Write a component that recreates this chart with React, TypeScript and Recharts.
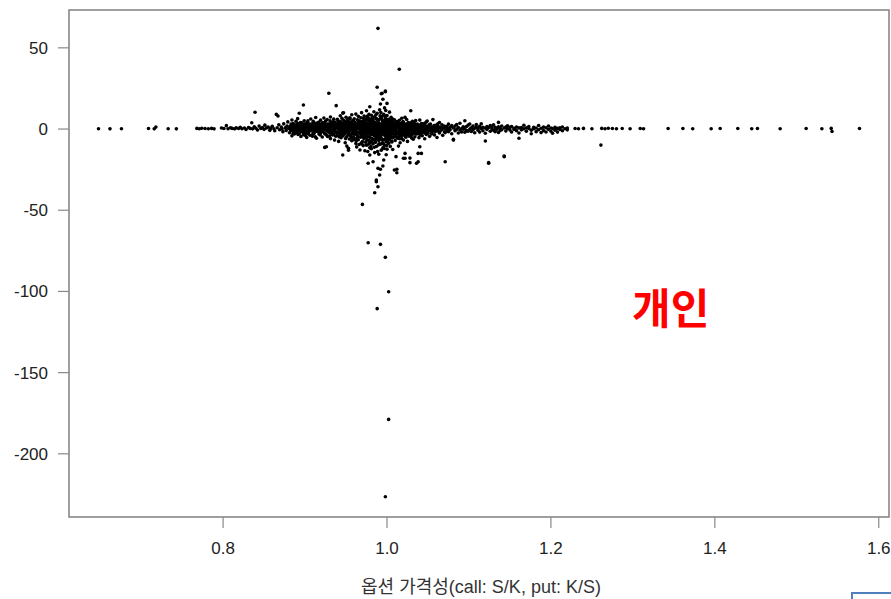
import React from "react";
import { ScatterChart, Scatter, XAxis, YAxis, ReferenceArea } from "recharts";

// tick labels
const xTicks = [0.8, 1.0, 1.2, 1.4, 1.6];
const yTicks = [-200, -150, -100, -50, 0, 50];
const xDomain: [number, number] = [0.612, 1.6125];
const yDomain: [number, number] = [-238.9, 73.3];

// each row: [x, y1, y2, ...]
const tailLeft: number[][] = [
  [0.648, 0.2], [0.662, 0.1], [0.676, 0.2], [0.709, 0.3], [0.716, 0.1], [0.718, 1.2],
  [0.733, 0.2], [0.743, 0.1], [0.768, 0.4], [0.771, 0.2], [0.774, 0.5], [0.778, 0.3],
  [0.782, 0.2], [0.786, 0.4], [0.789, 0.1],
  [0.798, 0.6], [0.801, 0.3], [0.804, 2.1], [0.806, 0.2], [0.809, 0.8], [0.811, 0.4],
  [0.814, 0.1], [0.816, 0.7], [0.819, 0.3], [0.821, 1.1], [0.823, 0.2], [0.826, 0.6],
  [0.828, -0.3], [0.831, 0.9], [0.833, 0.4], [0.835, 3.9], [0.836, 0.1], [0.838, 1.4],
  [0.839, 10.3], [0.84, 0.5], [0.842, -0.6], [0.844, 1.8], [0.846, 0.3], [0.848, 0.9],
  [0.85, -0.2], [0.851, 2.4], [0.853, 0.6], [0.855, 1.2], [0.857, -0.8], [0.858, 0.4],
  [0.86, 1.7], [0.862, 0.2], [0.863, -1.1], [0.865, 9.0], [0.866, 0.8], [0.867, 8.0],
  [0.868, 2.6], [0.869, -0.4], [0.871, 1.3], [0.872, 0.1], [0.873, -1.6], [0.874, 3.2],
  [0.876, 0.7], [0.877, -0.9], [0.878, 1.9], [0.879, 4.4], [0.88, 0.3],
];

const bandLeft: number[][] = [
  [0.881, 1.2, -2.3, 0.4], [0.883, 3.1, -0.7], [0.884, 0.9, -4.2, 5.6], [0.886, 1.8, -1.4],
  [0.887, 0.2, 2.7, -3.0], [0.889, 4.8, -0.5, 1.1], [0.89, -2.2, 0.6], [0.891, 3.5, -1.0, 6.4],
  [0.893, 9.7, 0.3, -2.9], [0.894, 1.6, -0.2, 2.4], [0.895, -4.6, 0.8], [0.896, 3.9, -1.7, 1.3],
  [0.898, 14.8, 0.1, -3.5, 2.0], [0.899, 5.1, -0.9], [0.9, 1.5, -2.6, 3.3, 0.4],
  [0.902, -1.3, 2.8, -5.2], [0.903, 0.7, 4.1], [0.904, -0.4, 1.9, -2.1], [0.906, 3.0, -3.8, 0.2],
  [0.907, 6.2, -1.1, 1.4], [0.909, -0.6, 2.3, -4.4], [0.91, 0.9, 4.7, -1.9], [0.911, 1.7, -2.8],
  [0.913, 3.6, -0.3, 0.8, 7.1], [0.914, -5.7, 1.2], [0.915, 2.5, -1.5, 0.1], [0.917, 4.3, -3.1, 1.0],
  [0.918, -0.8, 2.9], [0.919, 5.5, -2.4, 0.5], [0.921, 1.6, -4.9, 3.4], [0.922, -0.2, 2.1, -1.6],
  [0.923, 6.8, 0.7], [0.924, -11.3, 3.7, -2.7], [0.925, 1.1, -0.5, 4.9], [0.926, -10.9, 2.2, -3.6],
  [0.927, 0.4, 5.8, -1.2], [0.929, 22.0, 1.9, -2.0, 3.1], [0.93, -4.1, 0.6, 2.6],
  [0.931, 7.4, -0.9, -5.9], [0.932, 1.4, 3.9, -2.5], [0.934, -1.3, 0.2, 4.5], [0.935, 2.7, -3.3, 6.1],
  [0.936, -0.6, 1.8, -6.8], [0.938, 14.4, 3.2, -1.8], [0.939, 0.9, -4.0, 2.4], [0.94, 5.3, -2.2, 0.1],
  [0.941, -7.6, 1.5, 3.8], [0.942, 0.3, -1.1, 2.0], [0.943, 4.6, -3.9, 8.2], [0.944, -0.7, 1.3, -5.4],
  [0.945, 2.9, 6.6, -2.1], [0.946, 9.8, -16.0, 0.5], [0.947, 10.0, -1.5, 3.5], [0.948, -3.0, 1.0, 5.0],
  [0.949, 0.2, -8.4, 2.3], [0.95, 4.2, -1.9, 7.3], [0.951, -10.5, 0.8, -4.6], [0.952, 2.6, -0.4, 5.9],
  [0.953, -13.0, -11.9, 1.7, -2.8], [0.954, 3.4, 0.0, -6.1], [0.955, 6.4, -1.2, 2.1],
  [0.956, -3.5, 4.0, 0.6], [0.957, 1.9, -7.2, 8.8], [0.958, -0.8, 3.0, -2.4], [0.959, 5.2, 1.1, -4.8],
  // extra points thickening the band
  [0.8825, -0.9, 2.0], [0.8855, 0.5, -2.6, 3.4], [0.8885, -1.6, 2.2], [0.8915, 0.1, -3.4, 1.9],
  [0.8945, 4.0, -1.2], [0.8975, -0.4, 2.9, -2.0], [0.9005, -4.0, 0.9], [0.9035, 2.2, -2.9, 5.0],
  [0.9065, -0.9, 1.1], [0.9095, 3.7, -3.1, 0.3], [0.9125, -1.4, 2.0, -4.8], [0.9155, 0.6, 3.9],
  [0.9185, -2.0, 1.4, -3.7], [0.9215, 0.2, 4.0, -1.0], [0.9245, 2.5, -3.0, 0.9], [0.9275, -0.3, 3.0, -4.6],
  [0.9305, 1.7, -2.2, 5.0], [0.9335, -0.8, 2.4, -3.6], [0.9365, 0.7, 4.3, -1.9], [0.9395, -2.6, 1.2, 6.0],
  [0.9415, 0.6, -4.8, 2.6], [0.9445, 3.6, -0.9, -2.9], [0.9465, 1.4, -4.2, 5.5], [0.9495, -1.2, 3.1, -5.9],
  [0.9515, 1.6, -2.6, 4.4], [0.9545, -3.8, 2.8, 6.9], [0.9575, 0.4, -2.9, 4.9], [0.9595, -6.5, 2.0, -1.6],
];

const core: number[][] = [
  [0.96, 2.4, -1.0, 6.3, -5.5], [0.961, 0.5, -3.2, 4.1], [0.962, -8.9, 1.8, 9.2, -0.6],
  [0.963, 3.3, -2.1, -11.0], [0.964, 0.1, 5.7, -4.0, 2.0], [0.965, -6.6, 1.2, 7.8],
  [0.966, -1.7, 3.9, -9.5, 0.8], [0.967, -12.9, 4.8, -2.7, 1.5], [0.968, 6.9, -0.3, -5.1, 2.9],
  [0.969, -3.6, 0.7, 10.1], [0.97, -46.4, 1.4, -7.7, 3.6, -1.2], [0.971, 5.0, -4.3, 0.2, -10.2],
  [0.972, 2.2, -2.0, 8.0, -6.0], [0.973, -0.5, 4.4, -13.4, 1.0], [0.974, 6.2, -3.0, 0.4, -8.1],
  [0.975, 11.3, -1.5, 2.8, -5.2, 3.5], [0.976, 0.9, -9.8, 5.4, -2.4], [0.977, -21.1, -70.0, 1.6, 7.0, -4.7],
  [0.978, -0.8, 3.2, -6.9, 9.0], [0.979, 13.7, -16.0, 2.0, -1.9, -11.6], [0.98, 4.6, -3.4, 0.3, -7.5, 6.1],
  [0.981, -0.2, 2.5, -12.1, 8.5], [0.982, 1.1, -5.8, 3.8, -2.2], [0.983, -20.1, 5.9, -0.7, -9.0, 1.7],
  [0.984, 10.6, -3.9, 0.6, -6.4, 2.9], [0.985, -39.2, -14.5, 4.0, -1.3, 7.6], [0.986, 0.0, -8.2, 2.1, -4.4],
  [0.987, -32.4, -31.4, 6.5, -2.6, 1.3, -10.8], [0.988, 25.7, -110.6, 3.3, -0.4, -6.0, 9.7],
  [0.989, 62.0, -35.5, -24.2, 0.8, -3.7, 4.9], [0.99, -15.5, 1.9, -7.1, 5.6, -1.0],
  [0.991, -28.3, 2.7, -4.9, 11.8, 0.2], [0.992, 15.4, -24.8, -71.0, -2.0, 6.4, -9.4],
  [0.993, 21.7, 0.5, -5.6, 3.0, -13.0], [0.994, 22.0, -1.6, 7.9, -8.6, 1.4],
  [0.995, 18.3, -22.8, 4.5, -3.1, 0.0, -11.5], [0.996, -19.1, 2.3, -6.7, 9.1, -0.9],
  [0.997, 5.3, -2.8, 0.7, -10.0, 13.0], [0.998, 23.4, 23.0, -226.4, -79.0, 1.6, -4.2, 6.8],
  [0.999, -1.4, 3.7, -7.9, 0.4, -15.8], [1.0, 15.8, 2.6, -3.3, 8.3, -0.6, -12.4],
  [1.001, 0.9, -5.3, 4.2, -1.8], [1.002, -100.2, -178.8, 6.0, -2.5, 1.2, -8.8],
  [1.003, 3.1, -0.2, -6.2, 10.4], [1.004, -3.8, 1.8, 5.1, -10.7], [1.005, 0.3, -1.6, 7.2, -4.6],
  [1.006, 2.4, -8.0, 0.6, 4.4], [1.007, -2.9, 6.1, -0.5, -12.6], [1.008, 1.5, -5.0, 3.6],
  [1.009, -25.2, 0.1, -2.3, 5.7], [1.01, 3.9, -7.0, 1.0, -1.1],
  // extra points filling the dense core
  [0.9625, -2.9, 3.6, -7.3], [0.9655, 0.3, -4.8, 5.1], [0.9685, -1.0, 2.2, -8.6],
  [0.9715, 1.8, -2.7, 6.6, -5.0], [0.9745, -1.2, 3.0, -9.9], [0.9765, 2.6, -4.1, 0.0, -13.8],
  [0.9785, -2.5, 1.2, 4.9, -8.8], [0.9805, 0.9, -1.4, 2.8, -10.4], [0.9825, -3.3, 0.4, 7.1, -6.6],
  [0.9845, 1.5, -2.0, 4.3, -11.2], [0.9865, -0.6, 3.9, -5.9, 8.8], [0.9885, 1.0, -1.9, 5.8, -13.9],
  [0.9905, -2.4, 0.6, 3.4, -9.1], [0.9925, 1.7, -0.9, -4.0, 10.2], [0.9945, -2.2, 2.9, -6.8, 5.0],
  [0.9965, 0.5, -3.6, 4.0, -12.0], [0.9985, -0.3, 2.0, -5.8, 11.4], [1.0005, 1.3, -2.2, 5.9, -7.7],
  [1.0025, -1.1, 3.3, -4.4], [1.0045, 0.8, -2.8, 2.5], [1.0065, -1.4, 1.9, -5.5],
  [1.0085, 0.4, -3.2, 2.9], [0.9535, -1.8, 0.9, 4.6], [0.9565, -0.2, 2.7, -5.2],
  [0.9475, 1.9, -2.4, -0.6], [0.9425, -2.8, 0.5, 3.9], [0.9375, 1.1, -1.6, -4.4],
  [0.9635, -5.4, 0.9, 3.0], [0.9695, 4.5, -2.3, -9.2], [0.9725, -0.2, -4.6, 3.1],
  [0.9755, 7.8, -6.9, 1.2], [0.9795, -1.4, -5.2, 3.7], [0.9815, 5.2, -8.0, 1.6],
  [0.9855, 0.4, -3.0, -7.0], [0.9875, 2.5, -4.8, 6.0], [0.9895, -1.0, -9.8, 3.0],
  [0.9915, 8.1, -3.3, -6.2], [0.9935, -1.8, 1.1, 6.3], [0.9955, 3.1, -8.9, -1.5],
  [0.9975, 1.2, -6.1, 8.0], [0.9995, -3.9, 5.4, -10.1], [1.0015, 2.8, -0.8, -6.8],
  [1.0035, -5.1, 0.9, 4.1], [1.0055, -3.1, 2.8, -7.5], [1.0075, 0.9, -2.0, 3.9],
];

const bandRight: number[][] = [
  [1.011, -17.0, 2.2, -3.6, 0.4], [1.012, -26.9, -24.8, 4.6, -1.4], [1.013, 0.8, -5.7, 2.7],
  [1.014, -10.5, 1.3, -2.0, 3.8], [1.015, 36.8, -0.3, 5.4, -4.1], [1.016, 2.0, -1.7, -8.4],
  [1.017, 0.6, 3.5, -3.0], [1.018, -5.9, 1.6, -0.8, 6.6], [1.019, 2.9, -2.6, 0.2],
  [1.02, -18.0, 4.1, -1.0, -6.8], [1.021, 0.9, 2.4, -3.9], [1.022, 7.2, -15.0, -18.0, 1.1, -0.6],
  [1.023, -2.3, 3.0, -5.0], [1.024, 0.4, 5.9, -1.5], [1.025, -3.4, 1.8, -7.6], [1.026, 2.6, -0.9, 4.0],
  [1.027, -1.8, 0.7, -4.4], [1.028, -20.7, -17.9, 3.3, -0.2], [1.029, 11.3, 1.2, -2.9],
  [1.03, -5.5, 2.1, 0.0], [1.031, 4.7, -1.3, -3.2], [1.032, 0.5, 2.8, -6.3], [1.033, -0.7, 1.4, 3.9],
  [1.034, -2.5, 0.3, -4.8], [1.035, 2.0, 5.2, -1.1], [1.036, -21.1, 0.8, -3.0], [1.037, 1.7, -0.4, 3.1],
  [1.038, -15.0, -20.1, -2.0, 0.6], [1.039, 2.5, -5.3, 1.0], [1.04, 5.5, -10.9, -0.8],
  [1.041, 0.2, 1.9, -2.7], [1.042, -15.0, 3.4, -1.2], [1.043, 0.9, -4.1, 2.2], [1.044, -0.5, 1.3],
  [1.045, 2.8, -2.2, 0.4], [1.046, -1.6, 3.6, -6.0], [1.047, 0.7, -0.9], [1.048, 1.8, -3.3, 4.3],
  [1.049, 4.9, -1.4, 0.3], [1.05, -2.6, 1.5], [1.052, 0.6, -4.5, 2.4], [1.053, -1.0, 3.0],
  [1.055, 1.2, -2.1, 0.0], [1.056, 5.8, -0.7], [1.058, -3.6, 1.7, 0.5], [1.059, 2.3, -1.5],
  [1.061, 0.1, -5.2, 1.4], [1.062, 3.2, -0.6], [1.064, -2.4, 0.9, 4.0], [1.065, 1.1, -1.2],
  [1.067, -0.3, 2.6], [1.068, -3.9, 0.7], [1.07, 1.9, -1.7],
  // extra points thickening the band
  [1.0115, -1.9, 1.5, -4.9], [1.0135, 3.2, -2.8], [1.0155, -0.9, 1.9, -6.0], [1.0175, 2.2, -4.3],
  [1.0195, -1.3, 4.6, -3.2], [1.0215, 1.6, -2.0], [1.0235, -3.8, 0.9, 2.3], [1.0255, 0.2, -1.9, 3.2],
  [1.0275, 2.0, -3.0], [1.0295, -0.6, 4.0, -4.2], [1.0315, 1.1, -2.4], [1.0345, 2.9, -1.5],
  [1.0375, -2.8, 0.3], [1.0405, 1.4, -3.6], [1.0435, -1.8, 3.2], [1.0465, 0.9, -2.5],
  [1.0515, -1.1, 2.6], [1.0545, 0.4, -3.0], [1.0575, 2.2, -0.6], [1.0625, -1.3, 1.6],
];

const stripRight: number[][] = [
  [1.071, -20.1, 0.4, -2.2], [1.073, 1.5, -0.8], [1.075, 3.0, -1.6, 0.2], [1.077, -0.5, 1.1],
  [1.079, 2.1, -2.9], [1.081, -6.8, -6.3, 0.6], [1.083, 1.8, -1.0], [1.085, -0.2, 2.7],
  [1.087, 0.9, -2.4], [1.089, 3.6, -0.6], [1.091, 0.3, -1.8], [1.093, 1.4, -0.1],
  [1.095, 5.1, -2.0, 0.7], [1.097, -0.9, 1.6], [1.099, 2.4, -1.3], [1.101, 0.0, 3.1],
  [1.103, -1.5, 0.8], [1.105, 1.9, -0.4], [1.107, -2.3, 0.5], [1.109, 1.2, 2.8],
  [1.111, -0.7, 0.3], [1.113, 1.7, -1.9], [1.115, 0.4, 3.3], [1.117, -1.1, 1.0],
  [1.12, -7.4, 0.6, -2.6], [1.122, 1.5, -0.3], [1.124, -21.1, -20.7, 0.9], [1.126, 2.2, -1.4],
  [1.128, 0.1, 1.3], [1.13, -0.8, 2.6], [1.132, 1.0, -1.7], [1.134, 0.5, -0.2],
  [1.136, 4.1, 1.4, -2.1], [1.138, 0.7, -0.9], [1.14, 1.9, -0.4], [1.143, -17.0, -16.6, 0.6],
  [1.145, 1.3, -1.2], [1.147, 0.2, 2.0], [1.15, -0.6, 1.0], [1.152, 1.6, -1.8],
  [1.155, 0.4, -0.3], [1.158, 1.2, -1.0], [1.161, -5.7, 0.7, -2.4], [1.164, 0.9, -0.5],
  [1.167, 2.3, 0.1], [1.17, -1.3, 0.8], [1.173, 0.3, 1.5], [1.176, -0.7, -2.9],
  [1.179, 1.1, 0.2], [1.182, -1.6, 0.6], [1.185, 2.2, -0.4], [1.188, 0.5, -2.2],
  [1.191, -1.0, 1.2], [1.194, 0.8, -1.8], [1.197, 1.9, -0.2], [1.2, -1.4, 0.6],
  [1.202, 0.3, -2.6], [1.205, 1.0, -0.7], [1.208, -1.9, 0.4], [1.211, 0.7, -0.3],
  [1.214, 1.3, -1.1], [1.217, 0.2], [1.22, -0.5, 0.6],
];

const tailRight: number[][] = [
  [1.2295, 0.3], [1.2336, 0.2], [1.2397, 0.4], [1.25, 0.2], [1.261, -9.9], [1.262, 0.4],
  [1.266, 0.2], [1.27, 0.5], [1.275, 0.3], [1.28, 0.2], [1.287, 0.3], [1.2966, 0.2],
  [1.309, 0.3], [1.313, 0.2], [1.343, 0.3], [1.361, 0.3], [1.373, 0.2], [1.3955, 0.2],
  [1.4065, 0.3], [1.428, 0.3], [1.445, 0.2], [1.452, 0.3], [1.4797, 0.2], [1.5114, 0.3],
  [1.5306, 0.2], [1.542, 0.4], [1.543, -1.5], [1.5765, 0.3],
];

const groups = [tailLeft, bandLeft, core, bandRight, stripRight, tailRight];
const points: { x: number; y: number }[] = [];
groups.forEach((g) =>
  g.forEach((row) => {
    for (let i = 1; i < row.length; i++) points.push({ x: row[0], y: row[i] });
  })
);

const Dot = (p: any) => <circle cx={p.cx} cy={p.cy} r={1.8} fill="#000" />;

const tickStyle = { fontSize: 17, fill: "#222", fontFamily: "'Liberation Sans', Arial, sans-serif" };

export default function App() {
  return (
    <div style={{ position: "absolute", left: 0, top: 0, width: 891, height: 599, background: "#fff", overflow: "hidden" }}>
      <ScatterChart width={891} height={599} margin={{ top: 10, right: 2, bottom: 32, left: 0 }}>
        <XAxis
          type="number"
          dataKey="x"
          domain={xDomain}
          ticks={xTicks}
          interval={0}
          allowDataOverflow
          tickFormatter={(v: number) => v.toFixed(1)}
          axisLine={false}
          tickLine={{ stroke: "#888", strokeWidth: 1.2 }}
          tickSize={11}
          tickMargin={14}
          height={50}
          tick={tickStyle}
        />
        <YAxis
          type="number"
          dataKey="y"
          domain={yDomain}
          ticks={yTicks}
          interval={0}
          allowDataOverflow
          axisLine={false}
          tickLine={{ stroke: "#888", strokeWidth: 1.2 }}
          tickSize={11}
          tickMargin={10}
          width={69}
          tick={tickStyle}
        />
        <ReferenceArea
          x1={xDomain[0]}
          x2={xDomain[1]}
          y1={yDomain[0]}
          y2={yDomain[1]}
          fill="none"
          fillOpacity={0}
          stroke="#808080"
          strokeWidth={1.5}
          ifOverflow="visible"
        />
        <Scatter data={points} shape={Dot} isAnimationActive={false} />
      </ScatterChart>
      <div
        style={{
          position: "absolute",
          left: 632,
          top: 285,
          fontSize: 42,
          lineHeight: 1,
          fontWeight: 700,
          color: "#ff0000",
          fontFamily: "'Noto Sans CJK KR', sans-serif",
        }}
      >
        개인
      </div>
      <div
        style={{
          position: "absolute",
          left: 281,
          width: 400,
          top: 578,
          textAlign: "center",
          fontSize: 18,
          lineHeight: 1,
          color: "#333",
          fontFamily: "'Liberation Sans', 'Noto Sans CJK KR', sans-serif",
        }}
      >
        옵션 가격성(call: S/K, put: K/S)
      </div>
      <div
        style={{
          position: "absolute",
          left: 851,
          top: 592,
          width: 60,
          height: 30,
          border: "2px solid #4f7fbd",
          boxSizing: "border-box",
        }}
      />
    </div>
  );
}
